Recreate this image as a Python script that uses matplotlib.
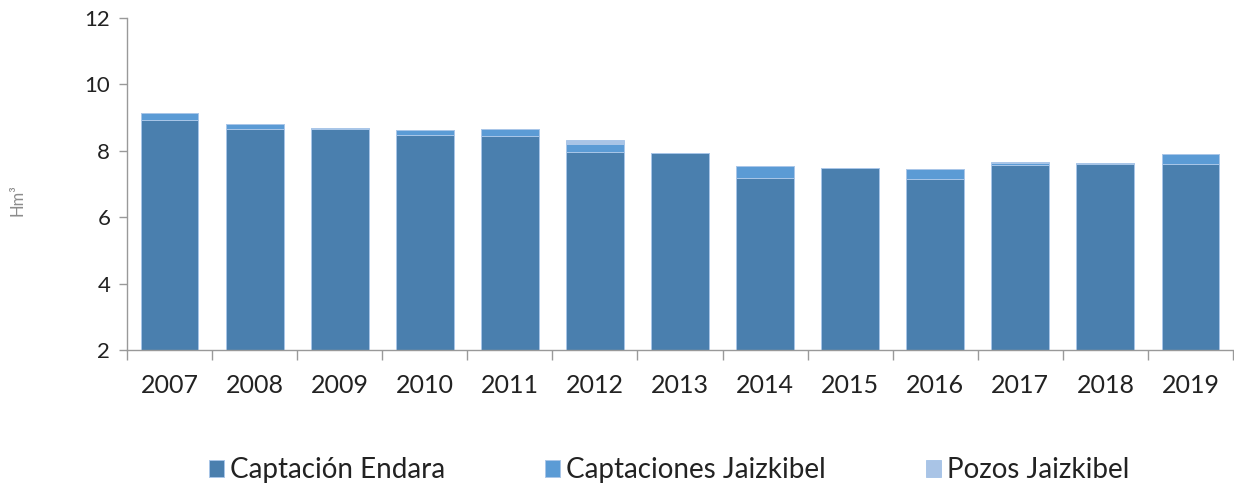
import matplotlib
matplotlib.use("Agg")
import matplotlib.pyplot as plt
import numpy as np

years = ["2007", "2008", "2009", "2010", "2011", "2012", "2013",
         "2014", "2015", "2016", "2017", "2018", "2019"]
endara = [8.92, 8.65, 8.66, 8.48, 8.46, 7.97, 7.94, 7.19, 7.47, 7.16, 7.58, 7.61, 7.61]
captaciones = [0.22, 0.15, 0.02, 0.15, 0.19, 0.24, 0.0, 0.34, 0.01, 0.29, 0.05, 0.01, 0.29]
pozos = [0.0, 0.0, 0.0, 0.0, 0.0, 0.12, 0.0, 0.0, 0.0, 0.0, 0.02, 0.0, 0.0]
series_names = ["Captación Endara", "Captaciones Jaizkibel", "Pozos Jaizkibel"]
yticks = [2, 4, 6, 8, 10, 12]

plt.rcParams['font.family'] = ['Lato', 'DejaVu Sans']
colors = ["#4a7fae", "#5b9bd5", "#a9c4e6"]
edge = "#a9c6e8"

fig = plt.figure(figsize=(12.34, 4.86), dpi=100)
ax = fig.add_axes([127/1234, 1-350/486, (1233-127)/1234, (350-18)/486])

x = np.arange(len(years))
base = 2.0
e = np.array(endara)
c = np.array(captaciones)
p = np.array(pozos)
w = 0.68
ax.bar(x, e - base, bottom=base, width=w, color=colors[0], edgecolor=edge, linewidth=0.7, label=series_names[0])
ax.bar(x, c, bottom=e, width=w, color=colors[1], edgecolor=edge, linewidth=0.7, label=series_names[1])
ax.bar(x, p, bottom=e + c, width=w, color=colors[2], edgecolor=edge, linewidth=0.7, label=series_names[2])

ax.set_ylim(2, 12)
ax.set_xlim(-0.5, len(years) - 0.5)
ax.set_yticks(yticks)
ax.set_yticklabels([str(t) for t in yticks], fontsize=16, color="#222222")
ax.set_xticks(np.arange(-0.5, len(years), 1.0))
ax.set_xticklabels([])
ax.set_xticks(x, minor=True)
ax.set_xticklabels(years, minor=True, fontsize=18, color="#222222")
ax.tick_params(axis='x', which='major', length=7, color="#999999", width=1)
ax.tick_params(axis='x', which='minor', length=0, pad=17)
ax.tick_params(axis='y', length=6, color="#999999", width=1, pad=6)

for s in ["top", "right"]:
    ax.spines[s].set_visible(False)
for s in ["left", "bottom"]:
    ax.spines[s].set_color("#999999")
    ax.spines[s].set_linewidth(1)

fig.text(18/1234, 1-200/486, "Hm³", rotation=90, fontsize=12, color="#8c8c8c",
         ha='center', va='center')

handles, labels = ax.get_legend_handles_labels()
fig.legend(handles, labels, loc='center', bbox_to_anchor=(669/1234, 1-470/486), ncol=3,
           frameon=False, fontsize=20, handlelength=0.55, handleheight=0.55,
           handletextpad=0.2, columnspacing=3.6, labelcolor="#222222")

fig.savefig("out.png", dpi=100)
